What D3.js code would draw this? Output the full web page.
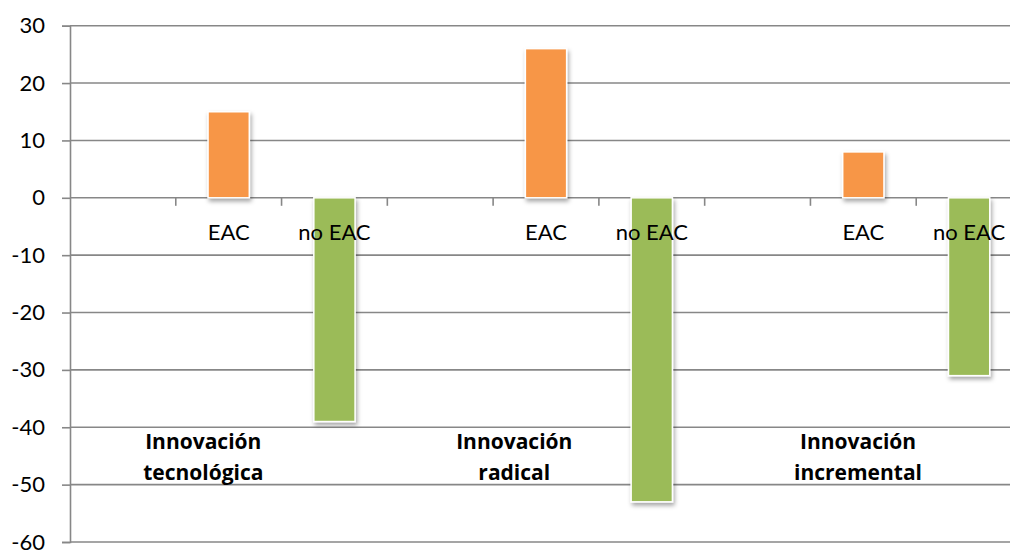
<!DOCTYPE html>
<html>
<head>
<meta charset="utf-8">
<script src="https://cdn.jsdelivr.net/npm/d3@7/dist/d3.min.js"></script>
<style>
  html, body { margin: 0; padding: 0; background: #fff; }
  svg { display: block; font-family: Lato, "Open Sans", "Liberation Sans", sans-serif; }
</style>
</head>
<body>
<svg id="chart" width="1010" height="550"></svg>
<script>
// ---- data ----
const categories = ["", "EAC", "no EAC", " ", "EAC ", "no EAC ", "  ", "EAC  ", "no EAC  "];
const categoryLabels = ["", "EAC", "no EAC", "", "EAC", "no EAC", "", "EAC", "no EAC"];
const eacValues = [null, 15, null, null, 26, null, null, 8, null];
const noEacValues = [null, null, -39, null, null, -53, null, null, -31];
const groupLabels = [["Innovación", "tecnológica"], ["Innovación", "radical"], ["Innovación", "incremental"]];
const yTicks = [30, 20, 10, 0, -10, -20, -30, -40, -50, -60];

// ---- layout ----
const svg = d3.select("#chart");
const mLeft = 70, mRight = 1022, mTop = 25.7, mBottom = 542;
const x = d3.scaleBand().domain(categories).range([mLeft, mRight]).padding(0);
const y = d3.scaleLinear().domain([-60, 30]).range([mBottom, mTop]);
const barW = x.bandwidth() * 0.39;
// continuous category index scale for free-floating group labels
const xi = d3.scaleLinear().domain([0, categories.length]).range([mLeft, mRight]);
const groupLabelPos = [1.26, 4.2, 7.45];

const defs = svg.append("defs");
const f = defs.append("filter").attr("id", "shadow").attr("x", "-30%").attr("y", "-30%").attr("width", "160%").attr("height", "160%");
f.append("feDropShadow").attr("dx", 1.5).attr("dy", 3).attr("stdDeviation", 2).attr("flood-color", "#000").attr("flood-opacity", 0.35);

const gridColor = "#878787";

// gridlines + y axis
const yAxis = d3.axisLeft(y).tickValues(yTicks).tickSize(8).tickPadding(17).tickFormat(d => String(d));
const gy = svg.append("g").attr("transform", `translate(${mLeft},0)`).call(yAxis);
gy.select(".domain").attr("stroke", gridColor).attr("stroke-width", 1.6);
gy.selectAll(".tick line").attr("stroke", gridColor).attr("stroke-width", 1.6);
gy.selectAll(".tick text").attr("font-size", 22).attr("fill", "#000").attr("font-family", "Lato, sans-serif");

svg.append("g").selectAll("line.grid").data(yTicks).join("line")
  .attr("class", "grid")
  .attr("x1", mLeft).attr("x2", mRight)
  .attr("y1", d => y(d)).attr("y2", d => y(d))
  .attr("stroke", gridColor).attr("stroke-width", 1.6);

// x axis at zero with ticks at band boundaries
const gx = svg.append("g").attr("transform", `translate(0,${y(0)})`);
const boundaries = categories.map(c => x(c)).concat([mRight]);
gx.selectAll("line.tk").data(boundaries.slice(1)).join("line")
  .attr("class", "tk")
  .attr("x1", d => d).attr("x2", d => d)
  .attr("y1", 0).attr("y2", 8)
  .attr("stroke", gridColor).attr("stroke-width", 1.6);

// bars
function drawBars(values, color) {
  svg.append("g").selectAll("rect")
    .data(categories.map((c, i) => ({ c, v: values[i] })).filter(d => d.v !== null))
    .join("rect")
    .attr("x", d => x(d.c) + (x.bandwidth() - barW) / 2)
    .attr("width", barW)
    .attr("y", d => y(Math.max(0, d.v)))
    .attr("height", d => Math.abs(y(d.v) - y(0)))
    .attr("fill", color)
    .attr("stroke", "#fff").attr("stroke-width", 1.5)
    .attr("filter", "url(#shadow)");
}
drawBars(eacValues, "#F79646");
drawBars(noEacValues, "#9BBB59");

// category labels
svg.append("g").selectAll("text").data(categories).join("text")
  .attr("x", d => x(d) + x.bandwidth() / 2)
  .attr("y", y(0) + 42)
  .attr("text-anchor", "middle")
  .attr("font-size", 22)
  .attr("fill", "#000")
  .text((d, i) => categoryLabels[i]);

// group labels
const gl = svg.append("g").selectAll("text").data(groupLabels).join("text")
  .attr("text-anchor", "middle")
  .attr("font-size", 21)
  .attr("font-family", "'Open Sans', Lato, sans-serif")
  .attr("font-weight", "bold")
  .attr("fill", "#000");
gl.each(function (d, i) {
  const t = d3.select(this);
  d.forEach((line, j) => {
    t.append("tspan")
      .attr("x", xi(groupLabelPos[i]))
      .attr("y", y(-43.8) + j * 31)
      .text(line);
  });
});
</script>
</body>
</html>
